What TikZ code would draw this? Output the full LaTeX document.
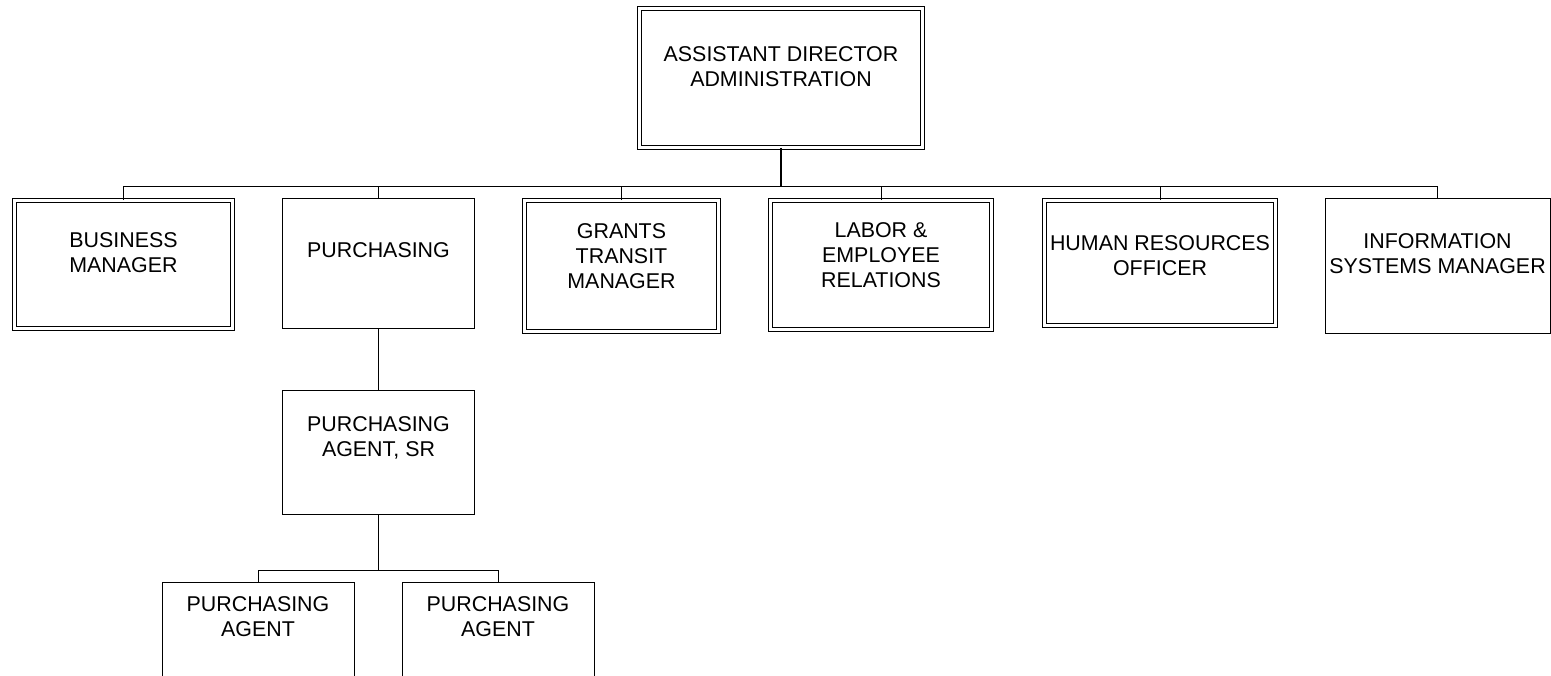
\documentclass[tikz,border=0pt]{standalone}
\usepackage{fontspec}
\setmainfont{Liberation Sans}
\begin{document}
\begin{tikzpicture}[x=1pt,y=-1pt,
  box/.style={draw=black,line width=0.9pt,rectangle,inner sep=0pt,fill=white},
  dbox/.style={draw=black,line width=0.9pt,double=white,double distance=3.6pt,rectangle,inner sep=0pt},
  txt/.style={align=center,inner sep=0pt,font=\fontsize{21.4}{25}\selectfont},
  conn/.style={line width=0.9pt},
  mainconn/.style={line width=1.6pt}]
\clip (0,0) rectangle (1551,676);
\fill[white] (0,0) rectangle (1551,676);
% boxes
\node[dbox,minimum width=283pt,minimum height=139pt] (top) at (781,78) {};
\node[dbox,minimum width=218pt,minimum height=128pt] (bm) at (123.5,264.5) {};
\node[box,minimum width=192pt,minimum height=130pt] (pur) at (378.5,263) {};
\node[dbox,minimum width=194pt,minimum height=131pt] (gr) at (621.5,266) {};
\node[dbox,minimum width=221pt,minimum height=129pt] (lab) at (881,265) {};
\node[dbox,minimum width=231pt,minimum height=125pt] (hr) at (1160,263) {};
\node[box,minimum width=225pt,minimum height=135pt] (info) at (1437.5,265.5) {};
\node[box,minimum width=192pt,minimum height=124pt] (pasr) at (378.5,452) {};
\node[box,minimum width=192pt,minimum height=138pt] (ag1) at (258,651) {};
\node[box,minimum width=192pt,minimum height=138pt] (ag2) at (498,651) {};
% texts
\node[txt] (ttop) at ([yshift=-59pt]top.north) {ASSISTANT DIRECTOR\\ADMINISTRATION};
\node[txt] (tbm) at ([yshift=-53pt]bm.north) {BUSINESS\\MANAGER};
\node[txt] (tpur) at ([yshift=-52.5pt]pur.north) {PURCHASING};
\node[txt] (tgr) at ([yshift=-56pt]gr.north) {GRANTS\\TRANSIT\\MANAGER};
\node[txt] (tlab) at ([yshift=-55.5pt]lab.north) {LABOR \&\\EMPLOYEE\\RELATIONS};
\node[txt] (thr) at ([yshift=-56pt]hr.north) {HUMAN RESOURCES\\OFFICER};
\node[txt] (tinfo) at ([yshift=-56pt]info.north) {INFORMATION\\SYSTEMS MANAGER};
\node[txt] (tpasr) at ([yshift=-48.5pt]pasr.north) {PURCHASING\\AGENT, SR};
\node[txt] (tag1) at ([yshift=-35pt]ag1.north) {PURCHASING\\AGENT};
\node[txt] (tag2) at ([yshift=-35pt]ag2.north) {PURCHASING\\AGENT};
% connectors
\coordinate (busC) at (781,186);
\coordinate (subC) at (378.5,570);
\draw[mainconn] (top.south) -- (busC);
\draw[conn] (bm.north) |- (busC);
\draw[conn] (info.north) |- (busC);
\draw[conn] (pur.north) -- (pur.north |- busC);
\draw[conn] (gr.north) -- (gr.north |- busC);
\draw[conn] (lab.north) -- (lab.north |- busC);
\draw[conn] (hr.north) -- (hr.north |- busC);
\draw[conn] (pur.south) -- (pasr.north);
\draw[conn] (pasr.south) -- (subC);
\draw[conn] (ag1.north) |- (subC);
\draw[conn] (ag2.north) |- (subC);
\end{tikzpicture}
\end{document}
